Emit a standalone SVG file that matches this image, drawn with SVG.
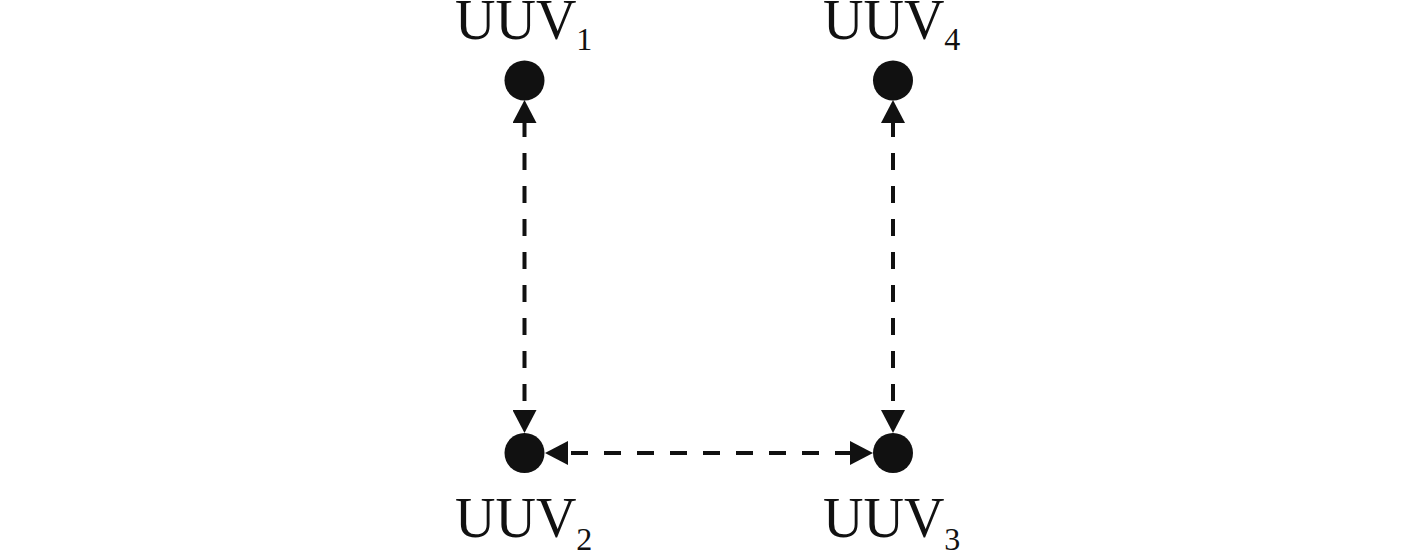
<svg xmlns="http://www.w3.org/2000/svg" width="1417" height="554" viewBox="0 0 1417 554">
<style>
.lbl{font-family:"Liberation Serif","Times New Roman",serif;font-size:56px;fill:#111}
.sub{font-size:32px}
.node{fill:#111}
.conn{stroke:#111;stroke-width:4;fill:none;stroke-dasharray:17 16}
</style>
<defs>
<marker id="ah" markerUnits="userSpaceOnUse" markerWidth="24" markerHeight="24" refX="0" refY="12" orient="auto-start-reverse" viewBox="0 0 24 24">
<path d="M0,0 L23,12 L0,24 z" fill="#111"/>
</marker>
</defs>
<rect width="1417" height="554" fill="#fff"/>
<g id="connectors">
<path class="conn" d="M524.5,123 L524.5,410" stroke-dashoffset="3" marker-start="url(#ah)" marker-end="url(#ah)"/>
<path class="conn" d="M893,123 L893,410" stroke-dashoffset="3" marker-start="url(#ah)" marker-end="url(#ah)"/>
<path class="conn" d="M568,453 L850,453" stroke-dashoffset="-3" marker-start="url(#ah)" marker-end="url(#ah)"/>
</g>
<g id="uuv1">
<circle class="node" cx="524.5" cy="80.5" r="20"/>
<text class="lbl" x="455" y="39">UUV<tspan class="sub" dy="11">1</tspan></text>
</g>
<g id="uuv2">
<circle class="node" cx="524.5" cy="453" r="20"/>
<text class="lbl" x="455" y="537">UUV<tspan class="sub" dy="13">2</tspan></text>
</g>
<g id="uuv3">
<circle class="node" cx="893" cy="453" r="20"/>
<text class="lbl" x="823" y="537">UUV<tspan class="sub" dy="13">3</tspan></text>
</g>
<g id="uuv4">
<circle class="node" cx="893" cy="80.5" r="20"/>
<text class="lbl" x="823" y="39">UUV<tspan class="sub" dy="11">4</tspan></text>
</g>
</svg>
